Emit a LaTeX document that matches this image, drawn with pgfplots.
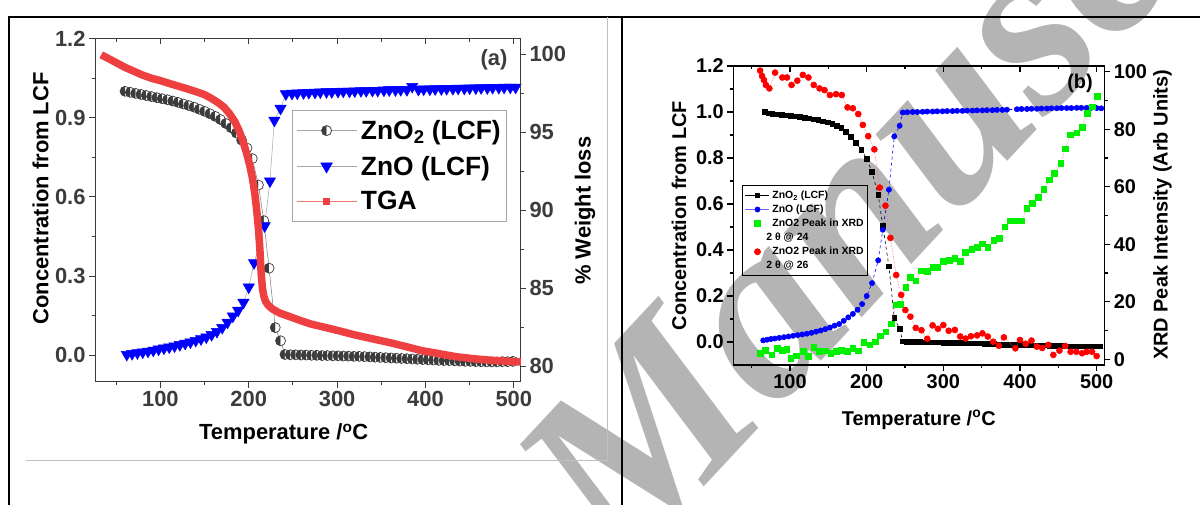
\documentclass[border=0pt]{standalone}
\usepackage{fontspec}
\setmainfont{Liberation Sans}
\newfontfamily\wmfont{Liberation Serif}
\usepackage{pgfplots}
\pgfplotsset{compat=1.18}
\usetikzlibrary{plotmarks}
\definecolor{tgared}{RGB}{238,64,64}
\definecolor{dgray}{RGB}{60,60,60}
\definecolor{wm}{RGB}{180,180,180}
\definecolor{bblue}{RGB}{0,0,255}
\definecolor{bgreen}{RGB}{0,240,0}
\definecolor{bred}{RGB}{255,0,0}
\newcommand\fa{\fontsize{22}{24}\selectfont\bfseries}
\newcommand\fb{\fontsize{20}{22}\selectfont\bfseries}
\pgfplotsset{
  panelA/.style={at={(95bp,123.3bp)}, anchor=south west, scale only axis,
    width=425bp, height=343.2bp, xmin=26, xmax=507,
    major tick length=6bp, minor tick length=3.5bp,
    axis line style={line width=1bp, dgray}, tick style={line width=1bp, dgray},
    tick label style={font=\fa, text=dgray}, label style={font=\fa, text=black}},
  panelB/.style={at={(733.3bp,140bp)}, anchor=south west, scale only axis,
    width=371bp, height=299bp, xmin=26, xmax=510,
    major tick length=6bp, minor tick length=3.5bp,
    axis line style={line width=1.1bp, black}, tick style={line width=1.1bp, black},
    tick label style={font=\fb, text=black}, label style={font=\fb, text=black}},
}
\begin{document}
\begin{tikzpicture}
\path[use as bounding box] (0bp,0bp) rectangle (1200bp,505bp);
\fill[white] (0bp,0bp) rectangle (1200bp,505bp);
% watermark
\node[rotate=47, anchor=base west, text=wm, inner sep=0pt,
  font=\wmfont\bfseries\itshape\fontsize{250}{250}\selectfont] at (622bp,-70bp) {Manuscript};
% frames
\draw[black, line width=1.5bp] (9bp,0bp) -- (9bp,488bp) -- (1200bp,488bp);
\draw[black, line width=1.5bp] (622bp,0bp) -- (622bp,488bp);
\draw[black!25, line width=1bp] (26bp,44bp) -- (607bp,44bp) -- (607bp,488bp);

% ================= PANEL (a) =================
\begin{axis}[panelA, ymin=-0.1, ymax=1.2,
  xtick={100,200,300,400,500}, xticklabels={100,200,300,400,500},
  minor xtick={50,150,250,350,450},
  ytick={0,0.3,0.6,0.9,1.2}, yticklabels={0.0,0.3,0.6,0.9,1.2},
  minor ytick={0.15,0.45,0.75,1.05},
  xtick pos=bottom, ytick pos=left, tick align=outside,
  xlabel={Temperature /\textsuperscript{o}C}, ylabel={Concentration from LCF},
  xlabel style={at={(axis description cs:0.444,-0.152)}, anchor=center},
  ylabel style={at={(axis description cs:-0.128,0.534)}, anchor=center},
  clip=false]
\addplot[dgray!70, line width=0.5bp, mark=halfcircle*, mark size=5bp,
  mark options={rotate=90, draw=dgray, fill=dgray, line width=0.7bp, solid}] coordinates {
(60,1.000)(66,0.996)(72,0.992)(78,0.988)(84,0.984)(90,0.980)(96,0.976)(102,0.972)(108,0.968)
(114,0.963)(120,0.958)(126,0.952)(132,0.946)(138,0.940)(144,0.932)(150,0.924)(156,0.915)
(162,0.905)(168,0.893)(174,0.878)(180,0.862)(186,0.842)(192,0.815)(198,0.785)(204,0.745)
(211,0.645)(217,0.510)(223,0.330)(230,0.105)(236,0.055)(241,0.003)(247,0.002)(253,0.002)
(259,0.001)(265,0.001)(271,0.000)(277,0.000)(283,-0.001)(289,-0.001)(295,-0.002)(301,-0.002)
(307,-0.003)(313,-0.003)(319,-0.004)(325,-0.004)(331,-0.005)(337,-0.006)(343,-0.007)(349,-0.008)
(355,-0.009)(361,-0.010)(367,-0.011)(373,-0.012)(379,-0.013)(385,-0.014)(391,-0.015)(397,-0.016)
(403,-0.017)(409,-0.018)(415,-0.019)(421,-0.020)(427,-0.020)(433,-0.021)(439,-0.022)(445,-0.023)
(451,-0.023)(457,-0.024)(463,-0.024)(469,-0.025)(475,-0.025)(481,-0.025)(487,-0.024)(493,-0.024)
(499,-0.023)};
\addplot[gray!70, line width=0.5bp, mark=triangle*, mark size=6.5bp,
  mark options={rotate=180, draw=bblue, fill=bblue, solid}] coordinates {
(62,0.003)(68,0.006)(74,0.009)(80,0.012)(86,0.015)(92,0.019)(98,0.023)(104,0.027)(110,0.031)
(116,0.035)(122,0.040)(128,0.045)(134,0.050)(140,0.056)(146,0.062)(152,0.069)(158,0.078)
(164,0.090)(170,0.105)(176,0.125)(182,0.148)(188,0.170)(194,0.200)(200,0.258)(206,0.350)
(218,0.490)(224,0.660)(229,0.890)(236,0.935)(242,0.990)(249,0.992)(255,0.993)(262,0.994)
(268,0.995)(275,0.996)(281,0.997)(288,0.998)(294,0.998)(301,0.999)(307,1.000)(314,1.000)
(320,1.001)(327,1.002)(333,1.002)(340,1.003)(346,1.003)(353,1.004)(359,1.005)(366,1.005)
(372,1.006)(379,1.006)(385,1.018)(392,1.007)(398,1.008)(405,1.008)(411,1.009)(418,1.009)
(424,1.010)(431,1.010)(437,1.011)(444,1.011)(450,1.012)(457,1.012)(463,1.013)(470,1.013)
(476,1.014)(483,1.014)(489,1.015)(496,1.015)(502,1.015)};
\end{axis}

\begin{axis}[panelA, ymin=79, ymax=101, axis x line=none, axis y line*=right,
  ytick={80,85,90,95,100}, yticklabels={80,85,90,95,100},
  minor ytick={82.5,87.5,92.5,97.5}, tick align=outside,
  ylabel={\% Weight loss},
  ylabel style={at={(axis description cs:1.153,0.498)}, anchor=center},
  legend image code/.code={\draw[#1,mark repeat=2,mark phase=2]
     plot coordinates {(0bp,0bp) (30bp,0bp) (60bp,0bp)};},
  legend style={at={(0.463,0.792)}, anchor=north west, draw=black!35, fill=white,
     font=\fontsize{26.5}{28}\selectfont\bfseries, nodes={inner sep=2bp},
     row sep=11bp, column sep=2bp, inner xsep=4bp, inner ysep=8bp, line width=0.8bp},
  legend cell align=left, clip=false]
\addlegendimage{black!35, line width=0.8bp, mark=halfcircle*, mark size=5bp,
  mark options={rotate=90, draw=dgray, fill=dgray}}
\addlegendentry{ZnO\textsubscript{2} (LCF)}
\addlegendimage{black!35, line width=0.8bp, mark=triangle*, mark size=6.5bp,
  mark options={rotate=180, draw=bblue, fill=bblue}}
\addlegendentry{ZnO (LCF)}
\addplot[tgared, line width=7.5bp, line join=round, forget plot] coordinates {
(33,99.95)(40,99.75)(50,99.45)(60,99.15)(70,98.9)(80,98.65)(90,98.45)(100,98.3)(110,98.12)
(120,97.95)(130,97.78)(140,97.6)(150,97.4)(158,97.15)(165,96.9)(172,96.6)(178,96.2)(184,95.7)
(189,95.1)(193,94.5)(197,93.75)(201,92.9)(204,92.1)(207,91.0)(209,90.0)(211,88.8)(212.5,87.6)
(214,86.0)(215.5,85.0)(217,84.5)(219,84.15)(222,83.9)(227,83.65)(235,83.4)(245,83.2)
(257,82.95)(270,82.7)(285,82.5)(303,82.25)(320,82.0)(340,81.75)(360,81.5)(378,81.25)
(395,81.0)(415,80.8)(435,80.6)(455,80.47)(475,80.37)(495,80.3)(508,80.27)};
\addlegendimage{tgared!70, line width=0.8bp, mark=square*, mark size=2.8bp,
  mark options={draw=tgared, fill=tgared}}
\addlegendentry{TGA}
\end{axis}

\begin{axis}[panelA, ymin=0, ymax=1, hide y axis, axis x line*=top,
  xtick={100,200,300,400,500}, xticklabels={}, minor xtick={50,150,250,350,450},
  tick align=inside]
\end{axis}
\node[font=\fa, text=dgray] at (494bp,445bp) {(a)};

% ================= PANEL (b) =================
\begin{axis}[panelB, ymin=-0.1, ymax=1.2,
  xtick={100,200,300,400,500}, xticklabels={100,200,300,400,500},
  minor xtick={50,150,250,350,450},
  ytick={0,0.2,0.4,0.6,0.8,1.0,1.2}, yticklabels={0.0,0.2,0.4,0.6,0.8,1.0,1.2},
  minor ytick={0.1,0.3,0.5,0.7,0.9,1.1},
  xtick pos=bottom, ytick pos=left, tick align=outside,
  xlabel={Temperature /\textsuperscript{o}C}, ylabel={Concentration from LCF},
  xlabel style={at={(axis description cs:0.5,-0.184)}, anchor=center},
  ylabel style={at={(axis description cs:-0.1464,0.499)}, anchor=center},
  clip=false]
\addplot[black, dashed, line width=0.6bp, mark=square*, mark size=2.3bp,
  mark options={solid, fill=black}] coordinates {
(67,1.000)(72,0.995)(77,0.992)(83,0.990)(89,0.988)(95,0.986)(101,0.984)(107,0.982)(113,0.980)
(119,0.976)(125,0.972)(131,0.969)(137,0.965)(143,0.960)(149,0.955)(155,0.948)(161,0.940)
(167,0.930)(173,0.915)(179,0.893)(186,0.866)(193,0.836)(200,0.797)(207,0.739)(215,0.640)
(221,0.506)(229,0.329)(236,0.104)(243,0.057)(247,0.003)(252,0.002)(258,0.001)(264,0.001)
(270,0.000)(276,-0.001)(282,-0.001)(288,-0.002)(294,-0.002)(300,-0.003)(306,-0.003)(312,-0.003)
(318,-0.004)(324,-0.004)(330,-0.005)(336,-0.005)(342,-0.006)(348,-0.006)(354,-0.007)(360,-0.008)
(366,-0.009)(372,-0.010)(378,-0.011)(384,-0.011)(390,-0.012)(396,-0.012)(402,-0.013)(408,-0.013)
(414,-0.014)(420,-0.014)(426,-0.015)(432,-0.015)(438,-0.016)(444,-0.016)(450,-0.017)(456,-0.017)
(462,-0.018)(468,-0.018)(474,-0.019)(480,-0.019)(486,-0.019)(492,-0.019)(498,-0.019)(504,-0.018)};
\addplot[bblue, dashed, line width=0.6bp, mark=*, mark size=2.6bp,
  mark options={solid, fill=bblue}] coordinates {
(65,0.007)(70,0.010)(75,0.013)(80,0.015)(86,0.018)(92,0.021)(98,0.024)(104,0.027)(110,0.030)
(116,0.033)(122,0.036)(128,0.040)(134,0.045)(140,0.050)(146,0.056)(152,0.063)(158,0.071)
(164,0.078)(170,0.092)(176,0.107)(182,0.122)(188,0.140)(194,0.165)(200,0.200)(207,0.256)
(215,0.355)(221,0.488)(229,0.662)(236,0.894)(243,0.940)(247,0.998)(253,0.999)(260,1.000)
(266,1.000)(273,1.001)(279,1.002)(286,1.002)(292,1.003)(299,1.003)(305,1.004)(312,1.004)
(318,1.005)(325,1.005)(331,1.006)(338,1.006)(344,1.007)(351,1.007)(357,1.008)(364,1.008)
(370,1.009)(377,1.009)(383,1.010)(396,1.012)(402,1.013)(409,1.013)(415,1.014)(422,1.014)
(428,1.015)(435,1.015)(441,1.016)(448,1.016)(454,1.017)(461,1.017)(467,1.017)(474,1.018)
(480,1.018)(487,1.018)(493,1.018)(500,1.017)(506,1.016)};
\end{axis}

\begin{axis}[panelB, ymin=-2, ymax=102, axis x line=none, axis y line*=right,
  ytick={0,20,40,60,80,100}, yticklabels={0,20,40,60,80,100},
  minor ytick={10,30,50,70,90}, tick align=outside,
  ylabel={XRD Peak Intensity (Arb Units)},
  ylabel style={at={(axis description cs:1.157,0.502)}, anchor=center},
  legend image code/.code={\draw[#1,mark repeat=2,mark phase=2]
     plot coordinates {(0bp,0bp) (12bp,0bp) (24bp,0bp)};},
  legend style={at={(0.0226,0.602)}, anchor=north west, draw=black, fill=none,
     font=\fontsize{10.5}{12}\selectfont\bfseries, nodes={inner sep=1bp},
     row sep=3bp, column sep=1.5bp, inner xsep=3bp, inner ysep=4.5bp, line width=0.8bp},
  legend cell align=left, clip=false]
\addplot[red!55, densely dotted, line width=0.6bp, mark=square*, mark size=2.8bp,
  mark options={solid, fill=bgreen, draw=bgreen}, forget plot] coordinates {
(61,2.1)(68,3.2)(76,1.5)(83,3.8)(90,3.2)(96,3.5)(101,0.4)(108,1.2)(117,2.7)(124,1.0)
(131,4.2)(138,2.7)(146,3.0)(153,2.1)(160,2.7)(167,3.2)(175,2.7)(182,3.8)(189,3.0)(196,5.8)
(204,5.0)(211,6.1)(218,8.1)(225,9.6)(232,12.3)(238,18.9)(244,19.2)(251,25.0)(257,28.5)
(264,27.3)(271,30.8)(279,30.5)(286,32.0)(293,32.0)(300,34.0)(308,34.5)(315,35.1)(322,34.0)
(329,37.1)(337,38.2)(344,38.9)(351,40.1)(358,38.9)(366,41.3)(373,42.1)(380,46.1)(387,48.2)
(395,48.2)(402,48.2)(409,52.5)(416,54.2)(424,56.3)(431,59.1)(438,62.4)(445,64.7)(453,68.1)
(459,73.2)(466,78.0)(474,78.8)(481,80.7)(488,85.5)(494,87.8)(501,91.5)};
\addplot[red!55, densely dotted, line width=0.6bp, mark=*, mark size=3bp,
  mark options={solid, fill=bred, draw=bred}, forget plot] coordinates {
(61,100.4)(63.5,98.5)(66,97.1)(68.5,95.4)(73,94.2)(80.5,99.7)(90,98.0)(96,98.0)(102,95.4)
(109.5,96.9)(116.7,98.9)(124,98.0)(131,95.4)(138.5,94.2)(145,93.6)(152,91.9)(160,92.2)
(167.5,91.9)(175,87.6)(182,87.3)(189,85.3)(195,81.5)(202,77.6)(210,73.0)(217,59.7)(224.5,53.4)
(231,42.2)(238.5,29.3)(245,22.4)(250.5,17.1)(257,14.8)(264,10.9)(271.5,10.1)(279,7.1)
(286,11.8)(293,10.6)(300,11.9)(307,9.9)(315,10.2)(322,7.9)(329,7.2)(336,8.0)(344,8.3)
(351,9.0)(358,7.9)(365,6.1)(372.5,4.7)(379,7.6)(394,3.8)(400,6.7)(407.5,5.4)(415,6.5)
(422,4.4)(429,3.9)(437,5.0)(443.5,1.5)(451.5,3.0)(459,4.6)(466,2.6)(473.5,2.6)(481,2.1)
(487,2.6)(494,2.6)(500,1.1)};
\addlegendimage{black, solid, line width=0.8bp, mark=square*, mark size=2.3bp,
  mark options={fill=black}}
\addlegendentry{ZnO\textsubscript{2} (LCF)}
\addlegendimage{bblue!60, solid, line width=0.6bp, mark=*, mark size=2.6bp,
  mark options={fill=bblue, draw=bblue}}
\addlegendentry{ZnO (LCF)}
\addlegendimage{only marks, mark=square*, mark size=2.8bp,
  mark options={fill=bgreen, draw=bgreen}}
\addlegendentry{ZnO2 Peak in XRD}
\addlegendimage{empty legend}
\addlegendentry{\hspace*{-6bp}2 θ @ 24}
\addlegendimage{only marks, mark=*, mark size=3bp,
  mark options={fill=bred, draw=bred}}
\addlegendentry{ZnO2 Peak in XRD}
\addlegendimage{empty legend}
\addlegendentry{\hspace*{-6bp}2 θ @ 26}
\end{axis}

\begin{axis}[panelB, ymin=0, ymax=1, hide y axis, axis x line*=top,
  xtick={100,200,300,400,500}, xticklabels={}, minor xtick={50,150,250,350,450},
  tick align=inside]
\end{axis}
\node[font=\fb] at (1080bp,422bp) {(b)};
\end{tikzpicture}
\end{document}
